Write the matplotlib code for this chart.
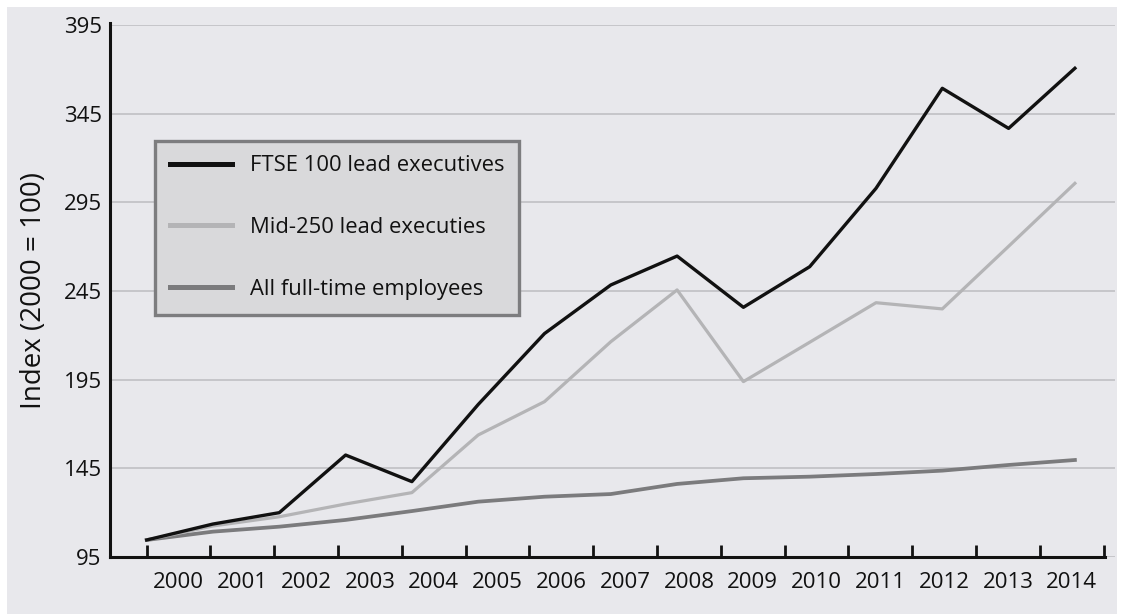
import matplotlib
matplotlib.use("Agg")
import matplotlib.pyplot as plt
from matplotlib.patches import Rectangle

plt.rcParams['font.family'] = ['Open Sans', 'DejaVu Sans']

years = list(range(2000, 2015))
year_labels = [str(y) for y in years]
ftse100 = [104.6, 113.6, 120.0, 152.5, 137.5, 181.0, 221.0, 248.4, 264.7, 235.8,
           258.7, 302.9, 359.3, 336.7, 370.6]
mid250 = [104.6, 112.5, 117.7, 124.9, 131.3, 163.8, 182.6, 216.4, 245.6, 193.9,
          216.1, 238.4, 234.9, 270.2, 305.7]
all_ft = [104.6, 109.3, 112.1, 115.9, 120.9, 126.2, 129.0, 130.5, 136.2, 139.4,
          140.3, 141.8, 143.7, 146.9, 149.7]
series_names = ["FTSE 100 lead executives", "Mid-250 lead executies",
                "All full-time employees"]
y_ticks = [95, 145, 195, 245, 295, 345, 395]

W, H = 1134, 614
fig = plt.figure(figsize=(W / 100, H / 100), dpi=100, facecolor='white')
fig.patches.append(Rectangle((7 / W, 0), (1117 - 7) / W, (H - 7) / H,
                             transform=fig.transFigure, facecolor='#e8e8ec',
                             edgecolor='none', zorder=-10))

ax = fig.add_axes([110 / W, 1 - 557 / H, (1115 - 110) / W, (557 - 25) / H])
ax.set_facecolor('none')

l_all, = ax.plot(years, all_ft, color='#7b7b7d', lw=2.7, zorder=3)
l_mid, = ax.plot(years, mid250, color='#b4b4b6', lw=2.3, zorder=3)
l_ftse, = ax.plot(years, ftse100, color='#111111', lw=2.4, zorder=4)

# x scale: tick marks spaced slightly tighter than the data points
step = 63.8 / 66.3
x_left = years[0] - 36.7 / 66.3
x_right = years[0] + (1115 - 146.7) / 66.3
tick_pos = [years[0] + step * k for k in range(len(years) + 1)]
label_pos = [years[0] + step * (k + 0.5) for k in range(len(years))]

ax.set_xlim(x_left, x_right)
ax.set_ylim(95, 395)

ax.set_xticks(tick_pos)
ax.set_xticklabels([])
ax.set_xticks(label_pos, minor=True)
ax.set_xticklabels(year_labels, minor=True, fontsize=16, color='#111111')
ax.tick_params(axis='x', which='major', direction='in', length=9, width=2,
               color='#111111')
ax.tick_params(axis='x', which='minor', length=0, pad=11)

ax.set_yticks(y_ticks)
ax.set_yticklabels([str(v) for v in y_ticks], fontsize=16, color='#111111')
ax.tick_params(axis='y', length=0, pad=6)
ax.yaxis.grid(True, color='#c6c6ca', lw=1.4)
ax.set_axisbelow(True)

for s in ['top', 'right']:
    ax.spines[s].set_visible(False)
for s in ['left', 'bottom']:
    ax.spines[s].set_linewidth(2.2)
    ax.spines[s].set_color('#111111')
ax.spines['bottom'].set_bounds(x_left, tick_pos[-1] + 0.02)
ax.spines['left'].set_bounds(95, 396)

ax.set_ylabel("Index (2000 = 100)", fontsize=20, color='#111111', labelpad=11)

leg = ax.legend([l_ftse, l_mid, l_all], series_names,
                loc='upper left', bbox_to_anchor=(155 / W, 1 - 140.5 / H),
                bbox_transform=fig.transFigure, fontsize=15.8,
                frameon=True, fancybox=False, framealpha=1,
                facecolor='#d9d9db', edgecolor='#7d7d7f',
                handlelength=2.85, handletextpad=0.8, labelspacing=1.85,
                borderpad=0.68, borderaxespad=0)
leg.get_frame().set_linewidth(2.4)
for t in leg.get_texts():
    t.set_color('#111111')
for l in leg.get_lines():
    l.set_linewidth(3.6)

fig.savefig("out.png", dpi=100, facecolor=fig.get_facecolor())
